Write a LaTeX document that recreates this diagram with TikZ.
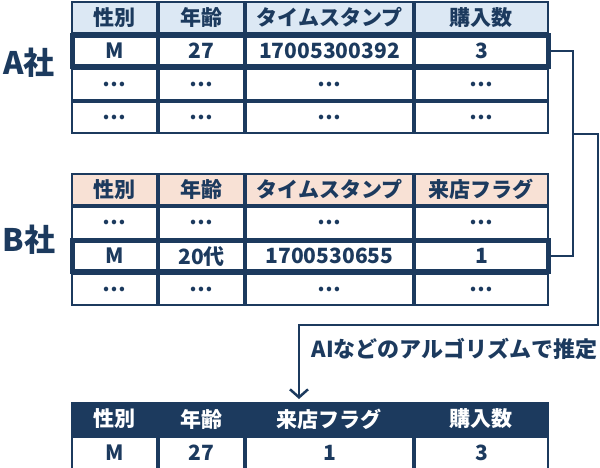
\documentclass[tikz,border=0pt]{standalone}
\usepackage{fontspec}
\setmainfont{Noto Sans CJK JP}
\usepackage{tikz}
\usetikzlibrary{matrix, fit, arrows.meta, positioning}
\definecolor{navy}{HTML}{1C3A5E}
\definecolor{hdrblue}{HTML}{DCE8F4}
\definecolor{hdrpeach}{HTML}{F8E1D5}

\begin{document}
\begin{tikzpicture}[
    x=1pt, y=-1pt,
    tbl/.style={matrix of nodes, inner sep=0pt, outer sep=0pt, anchor=north west,
        nodes={draw=navy, line width=2pt, outer sep=0pt, inner sep=0pt, anchor=center,
            minimum height=31.25pt, text=navy, font=\fontsize{21}{24}\selectfont\bfseries},
        column 1/.style={nodes={minimum width=85pt}},
        column 2/.style={nodes={minimum width=85pt}},
        column 3/.style={nodes={minimum width=167pt}},
        column 4/.style={nodes={minimum width=133pt}}},
    head/.style={row 1/.style={nodes={fill=#1, font=\fontsize{21}{24}\selectfont\bfseries}}},
    hilite/.style={draw=navy, line width=5pt, inner sep=0pt},
    company/.style={text=navy, font=\fontsize{31}{36}\selectfont\bfseries},
    note/.style={text=navy, font=\fontsize{22}{26}\selectfont\bfseries},
    link/.style={draw=navy, line width=2.5pt},
    arrow/.style={link, -{Straight Barb[length=8pt, width=18pt, line width=2.5pt]}}
]
\useasboundingbox (0,0) rectangle (600,467);

% Tables
\matrix (tA) [tbl, head=hdrblue] at (71,1) {
    性別 & 年齢 & タイムスタンプ & 購入数 \\
    M & 27 & 17005300392 & 3 \\
    … & … & … & … \\
    … & … & … & … \\
};
\matrix (tB) [tbl, head=hdrpeach] at (71,173) {
    性別 & 年齢 & タイムスタンプ & 来店フラグ \\
    … & … & … & … \\
    M & 20代 & 1700530655 & 1 \\
    … & … & … & … \\
};
\matrix (res) [tbl, head=navy, row 1/.append style={nodes={text=white}},
    nodes={minimum height=32pt}] at (71,402) {
    性別 & 年齢 & 来店フラグ & 購入数 \\
    M & 27 & 1 & 3 \\
};

% Highlighted rows
\node[hilite, fit=(tA-2-1)(tA-2-4)] (rowA) {};
\node[hilite, fit=(tB-3-1)(tB-3-4)] (rowB) {};

% Labels
\node[company] (labA) at (29,63) {A社};
\node[company] (labB) at (29,240) {B社};
\node[note, anchor=west] (algo) at (308,349) {AIなどのアルゴリズムで推定};

% Arrows
\coordinate (branch) at (573,134);
\coordinate (corner) at (598,325);
\coordinate (tip) at (299,399);
\draw[link] (rowA.east) -| (branch |- rowB.east) -- (rowB.east);
\draw[arrow] (branch) -| (corner) -| (tip);

\end{tikzpicture}
\end{document}
